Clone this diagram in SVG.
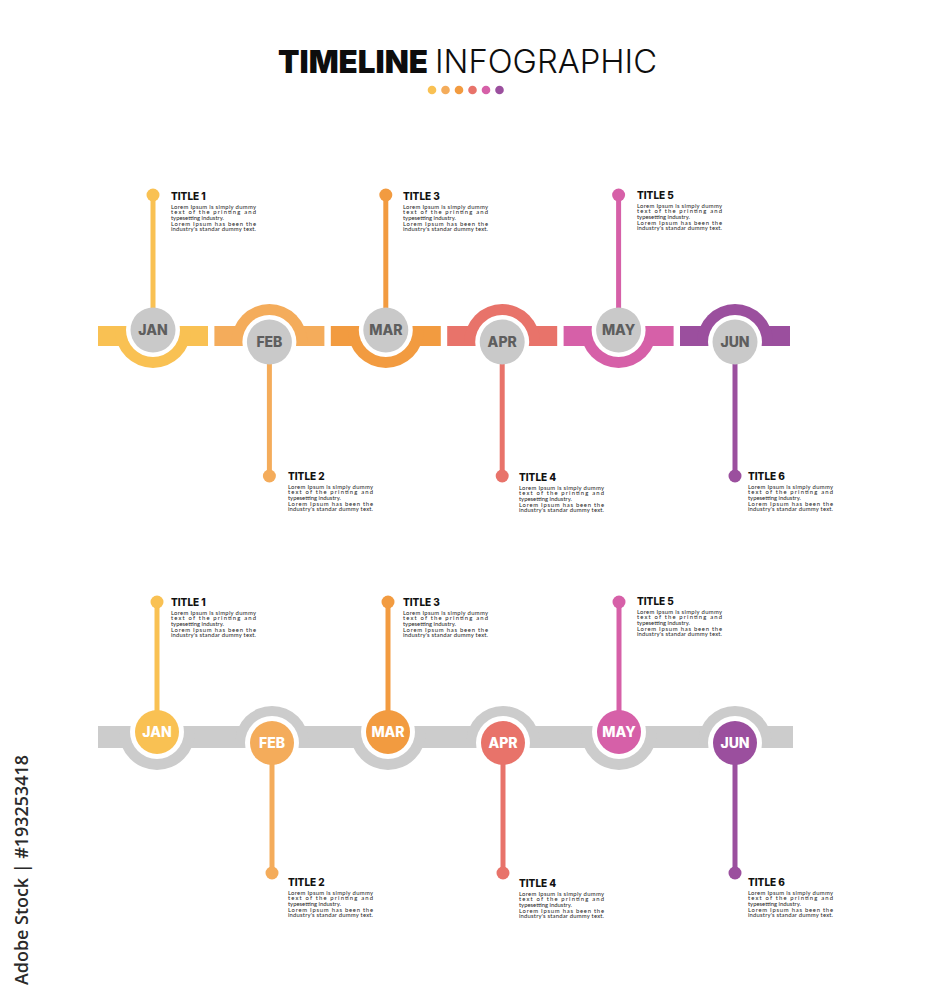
<svg xmlns="http://www.w3.org/2000/svg" width="931" height="1000" viewBox="0 0 931 1000">
<style>
.t{font-family:Inter,"Liberation Sans",sans-serif;font-weight:800;font-size:10px;fill:#111}
.b{font-family:Lato,"Liberation Sans",sans-serif;font-size:5.9px;fill:#222}
.m{font-family:Inter,"Liberation Sans",sans-serif;font-weight:800;font-size:14px;text-anchor:middle}
.mg{fill:#5e5e5e}
.mw{fill:#fff}
.gc{fill:#c9c9c9}
.wh{fill:#fff}
.ln{stroke-width:5;fill:none}
</style>
<rect width="931" height="1000" fill="#fff"/>
<g id="title">
<text x="278" y="73" font-family="Inter,'Liberation Sans',sans-serif" font-weight="900" font-size="32" fill="#0d0d0d" textLength="150" lengthAdjust="spacingAndGlyphs">TIMELINE</text>
<text x="435" y="73" font-family="Inter,'Liberation Sans',sans-serif" font-weight="300" font-size="32" fill="#0d0d0d" textLength="222" lengthAdjust="spacingAndGlyphs">INFOGRAPHIC</text>
<circle cx="432" cy="90" r="4.3" fill="#F9C153"/>
<circle cx="445.5" cy="90" r="4.3" fill="#F4AC5B"/>
<circle cx="459" cy="90" r="4.3" fill="#F29B40"/>
<circle cx="472.5" cy="90" r="4.3" fill="#E8736A"/>
<circle cx="486" cy="90" r="4.3" fill="#D660A8"/>
<circle cx="499.5" cy="90" r="4.3" fill="#9B4F9E"/>
</g>
<g id="watermark">
<text transform="translate(28,870) rotate(-90)" text-anchor="middle" font-family="'Open Sans','Liberation Sans',sans-serif" font-weight="600" font-size="17.5" fill="#2a2a2a" textLength="230" lengthAdjust="spacingAndGlyphs">Adobe Stock | #193253418</text>
</g>

<g id="top-jan">
<rect x="98" y="326" width="110" height="20" fill="#F9C153"/>
<path d="M115 330 A38 38 0 0 0 191 330 Z" fill="#F9C153"/>
<circle cx="153" cy="330" r="27" class="wh"/>
</g>
<g id="top-feb">
<rect x="214.4" y="326" width="110" height="20" fill="#F4AC5B"/>
<path d="M231.4 342 A38 38 0 0 1 307.4 342 Z" fill="#F4AC5B"/>
<circle cx="269.4" cy="342" r="27" class="wh"/>
</g>
<g id="top-mar">
<rect x="330.8" y="326" width="110" height="20" fill="#F29B40"/>
<path d="M347.8 330 A38 38 0 0 0 423.8 330 Z" fill="#F29B40"/>
<circle cx="385.8" cy="330" r="27" class="wh"/>
</g>
<g id="top-apr">
<rect x="447.2" y="326" width="110" height="20" fill="#E8736A"/>
<path d="M464.2 342 A38 38 0 0 1 540.2 342 Z" fill="#E8736A"/>
<circle cx="502.2" cy="342" r="27" class="wh"/>
</g>
<g id="top-may">
<rect x="563.6" y="326" width="110" height="20" fill="#D660A8"/>
<path d="M580.6 330 A38 38 0 0 0 656.6 330 Z" fill="#D660A8"/>
<circle cx="618.6" cy="330" r="27" class="wh"/>
</g>
<g id="top-jun">
<rect x="680" y="326" width="110" height="20" fill="#9B4F9E"/>
<path d="M697 342 A38 38 0 0 1 773 342 Z" fill="#9B4F9E"/>
<circle cx="735" cy="342" r="27" class="wh"/>
</g>

<g id="bottom-track">
<rect x="98" y="726" width="695" height="22" fill="#cccccc"/>
<path d="M119 732 A38 38 0 0 0 195 732 Z" fill="#cccccc"/>
<path d="M235 743 A37 37 0 0 1 309 743 Z" fill="#cccccc"/>
<path d="M350 732 A38 38 0 0 0 426 732 Z" fill="#cccccc"/>
<path d="M466 743 A37 37 0 0 1 540 743 Z" fill="#cccccc"/>
<path d="M581 732 A38 38 0 0 0 657 732 Z" fill="#cccccc"/>
<path d="M698 743 A37 37 0 0 1 772 743 Z" fill="#cccccc"/>
<circle cx="157" cy="732" r="27" class="wh"/>
<circle cx="272" cy="743" r="27" class="wh"/>
<circle cx="388" cy="732" r="27" class="wh"/>
<circle cx="503" cy="743" r="27" class="wh"/>
<circle cx="619" cy="732" r="27" class="wh"/>
<circle cx="735" cy="743" r="27" class="wh"/>
</g>

<g id="connectors">
<line x1="153" y1="195" x2="153" y2="315" class="ln" stroke="#F9C153"/>
<circle cx="153" cy="195" r="6.5" fill="#F9C153"/>
<line x1="269.4" y1="476" x2="269.4" y2="355" class="ln" stroke="#F4AC5B"/>
<circle cx="269.4" cy="476" r="6.5" fill="#F4AC5B"/>
<line x1="385.8" y1="195" x2="385.8" y2="315" class="ln" stroke="#F29B40"/>
<circle cx="385.8" cy="195" r="6.5" fill="#F29B40"/>
<line x1="502.2" y1="476" x2="502.2" y2="355" class="ln" stroke="#E8736A"/>
<circle cx="502.2" cy="476" r="6.5" fill="#E8736A"/>
<line x1="618.6" y1="195" x2="618.6" y2="315" class="ln" stroke="#D660A8"/>
<circle cx="618.6" cy="195" r="6.5" fill="#D660A8"/>
<line x1="735" y1="476" x2="735" y2="355" class="ln" stroke="#9B4F9E"/>
<circle cx="735" cy="476" r="6.5" fill="#9B4F9E"/>

<line x1="157" y1="602" x2="157" y2="720" class="ln" stroke="#F9C153"/>
<circle cx="157" cy="602" r="6.5" fill="#F9C153"/>
<line x1="272" y1="873" x2="272" y2="755" class="ln" stroke="#F4AC5B"/>
<circle cx="272" cy="873" r="6.5" fill="#F4AC5B"/>
<line x1="388" y1="602" x2="388" y2="720" class="ln" stroke="#F29B40"/>
<circle cx="388" cy="602" r="6.5" fill="#F29B40"/>
<line x1="503" y1="873" x2="503" y2="755" class="ln" stroke="#E8736A"/>
<circle cx="503" cy="873" r="6.5" fill="#E8736A"/>
<line x1="619" y1="602" x2="619" y2="720" class="ln" stroke="#D660A8"/>
<circle cx="619" cy="602" r="6.5" fill="#D660A8"/>
<line x1="735" y1="873" x2="735" y2="755" class="ln" stroke="#9B4F9E"/>
<circle cx="735" cy="873" r="6.5" fill="#9B4F9E"/>
</g>

<g id="top-month-circles">
<g id="c-top-jan"><circle cx="153" cy="330" r="22.5" class="gc"/><text x="153" y="335" class="m mg">JAN</text></g>
<g id="c-top-feb"><circle cx="269.4" cy="342" r="22.5" class="gc"/><text x="269.4" y="347" class="m mg">FEB</text></g>
<g id="c-top-mar"><circle cx="385.8" cy="330" r="22.5" class="gc"/><text x="385.8" y="335" class="m mg">MAR</text></g>
<g id="c-top-apr"><circle cx="502.2" cy="342" r="22.5" class="gc"/><text x="502.2" y="347" class="m mg">APR</text></g>
<g id="c-top-may"><circle cx="618.6" cy="330" r="22.5" class="gc"/><text x="618.6" y="335" class="m mg">MAY</text></g>
<g id="c-top-jun"><circle cx="735" cy="342" r="22.5" class="gc"/><text x="735" y="347" class="m mg">JUN</text></g>
</g>
<g id="bottom-month-circles">
<g id="c-bot-jan"><circle cx="157" cy="732" r="22" fill="#F9C153"/><text x="157" y="737" class="m mw">JAN</text></g>
<g id="c-bot-feb"><circle cx="272" cy="743" r="22" fill="#F4AC5B"/><text x="272" y="748" class="m mw">FEB</text></g>
<g id="c-bot-mar"><circle cx="388" cy="732" r="22" fill="#F29B40"/><text x="388" y="737" class="m mw">MAR</text></g>
<g id="c-bot-apr"><circle cx="503" cy="743" r="22" fill="#E8736A"/><text x="503" y="748" class="m mw">APR</text></g>
<g id="c-bot-may"><circle cx="619" cy="732" r="22" fill="#D660A8"/><text x="619" y="737" class="m mw">MAY</text></g>
<g id="c-bot-jun"><circle cx="735" cy="743" r="22" fill="#9B4F9E"/><text x="735" y="748" class="m mw">JUN</text></g>
</g>

<g id="text-top-1">
<text x="171" y="200" class="t">TITLE 1</text>
<text x="171" y="208.8" class="b" textLength="85" lengthAdjust="spacing">Lorem Ipsum is simply dummy</text>
<text x="171" y="214.4" class="b" textLength="85" lengthAdjust="spacing">text of the printing and</text>
<text x="171" y="220" class="b">typesetting industry.</text>
<text x="171" y="225.6" class="b" textLength="85" lengthAdjust="spacing">Lorem Ipsum has been the</text>
<text x="171" y="231.2" class="b" textLength="85" lengthAdjust="spacing">industry's standar dummy text.</text>
</g>
<g id="text-top-2">
<text x="288" y="480" class="t">TITLE 2</text>
<text x="288" y="488.8" class="b" textLength="85" lengthAdjust="spacing">Lorem Ipsum is simply dummy</text>
<text x="288" y="494.4" class="b" textLength="85" lengthAdjust="spacing">text of the printing and</text>
<text x="288" y="500" class="b">typesetting industry.</text>
<text x="288" y="505.6" class="b" textLength="85" lengthAdjust="spacing">Lorem Ipsum has been the</text>
<text x="288" y="511.2" class="b" textLength="85" lengthAdjust="spacing">industry's standar dummy text.</text>
</g>
<g id="text-top-3">
<text x="403" y="200" class="t">TITLE 3</text>
<text x="403" y="208.8" class="b" textLength="85" lengthAdjust="spacing">Lorem Ipsum is simply dummy</text>
<text x="403" y="214.4" class="b" textLength="85" lengthAdjust="spacing">text of the printing and</text>
<text x="403" y="220" class="b">typesetting industry.</text>
<text x="403" y="225.6" class="b" textLength="85" lengthAdjust="spacing">Lorem Ipsum has been the</text>
<text x="403" y="231.2" class="b" textLength="85" lengthAdjust="spacing">industry's standar dummy text.</text>
</g>
<g id="text-top-4">
<text x="519" y="481" class="t">TITLE 4</text>
<text x="519" y="489.8" class="b" textLength="85" lengthAdjust="spacing">Lorem Ipsum is simply dummy</text>
<text x="519" y="495.4" class="b" textLength="85" lengthAdjust="spacing">text of the printing and</text>
<text x="519" y="501" class="b">typesetting industry.</text>
<text x="519" y="506.6" class="b" textLength="85" lengthAdjust="spacing">Lorem Ipsum has been the</text>
<text x="519" y="512.2" class="b" textLength="85" lengthAdjust="spacing">industry's standar dummy text.</text>
</g>
<g id="text-top-5">
<text x="637" y="199" class="t">TITLE 5</text>
<text x="637" y="207.8" class="b" textLength="85" lengthAdjust="spacing">Lorem Ipsum is simply dummy</text>
<text x="637" y="213.4" class="b" textLength="85" lengthAdjust="spacing">text of the printing and</text>
<text x="637" y="219" class="b">typesetting industry.</text>
<text x="637" y="224.6" class="b" textLength="85" lengthAdjust="spacing">Lorem Ipsum has been the</text>
<text x="637" y="230.2" class="b" textLength="85" lengthAdjust="spacing">industry's standar dummy text.</text>
</g>
<g id="text-top-6">
<text x="748" y="480" class="t">TITLE 6</text>
<text x="748" y="488.8" class="b" textLength="85" lengthAdjust="spacing">Lorem Ipsum is simply dummy</text>
<text x="748" y="494.4" class="b" textLength="85" lengthAdjust="spacing">text of the printing and</text>
<text x="748" y="500" class="b">typesetting industry.</text>
<text x="748" y="505.6" class="b" textLength="85" lengthAdjust="spacing">Lorem Ipsum has been the</text>
<text x="748" y="511.2" class="b" textLength="85" lengthAdjust="spacing">industry's standar dummy text.</text>
</g>

<g id="text-bot-1">
<text x="171" y="606" class="t">TITLE 1</text>
<text x="171" y="614.8" class="b" textLength="85" lengthAdjust="spacing">Lorem Ipsum is simply dummy</text>
<text x="171" y="620.4" class="b" textLength="85" lengthAdjust="spacing">text of the printing and</text>
<text x="171" y="626" class="b">typesetting industry.</text>
<text x="171" y="631.6" class="b" textLength="85" lengthAdjust="spacing">Lorem Ipsum has been the</text>
<text x="171" y="637.2" class="b" textLength="85" lengthAdjust="spacing">industry's standar dummy text.</text>
</g>
<g id="text-bot-2">
<text x="288" y="886" class="t">TITLE 2</text>
<text x="288" y="894.8" class="b" textLength="85" lengthAdjust="spacing">Lorem Ipsum is simply dummy</text>
<text x="288" y="900.4" class="b" textLength="85" lengthAdjust="spacing">text of the printing and</text>
<text x="288" y="906" class="b">typesetting industry.</text>
<text x="288" y="911.6" class="b" textLength="85" lengthAdjust="spacing">Lorem Ipsum has been the</text>
<text x="288" y="917.2" class="b" textLength="85" lengthAdjust="spacing">industry's standar dummy text.</text>
</g>
<g id="text-bot-3">
<text x="403" y="606" class="t">TITLE 3</text>
<text x="403" y="614.8" class="b" textLength="85" lengthAdjust="spacing">Lorem Ipsum is simply dummy</text>
<text x="403" y="620.4" class="b" textLength="85" lengthAdjust="spacing">text of the printing and</text>
<text x="403" y="626" class="b">typesetting industry.</text>
<text x="403" y="631.6" class="b" textLength="85" lengthAdjust="spacing">Lorem Ipsum has been the</text>
<text x="403" y="637.2" class="b" textLength="85" lengthAdjust="spacing">industry's standar dummy text.</text>
</g>
<g id="text-bot-4">
<text x="519" y="887" class="t">TITLE 4</text>
<text x="519" y="895.8" class="b" textLength="85" lengthAdjust="spacing">Lorem Ipsum is simply dummy</text>
<text x="519" y="901.4" class="b" textLength="85" lengthAdjust="spacing">text of the printing and</text>
<text x="519" y="907" class="b">typesetting industry.</text>
<text x="519" y="912.6" class="b" textLength="85" lengthAdjust="spacing">Lorem Ipsum has been the</text>
<text x="519" y="918.2" class="b" textLength="85" lengthAdjust="spacing">industry's standar dummy text.</text>
</g>
<g id="text-bot-5">
<text x="637" y="605" class="t">TITLE 5</text>
<text x="637" y="613.8" class="b" textLength="85" lengthAdjust="spacing">Lorem Ipsum is simply dummy</text>
<text x="637" y="619.4" class="b" textLength="85" lengthAdjust="spacing">text of the printing and</text>
<text x="637" y="625" class="b">typesetting industry.</text>
<text x="637" y="630.6" class="b" textLength="85" lengthAdjust="spacing">Lorem Ipsum has been the</text>
<text x="637" y="636.2" class="b" textLength="85" lengthAdjust="spacing">industry's standar dummy text.</text>
</g>
<g id="text-bot-6">
<text x="748" y="886" class="t">TITLE 6</text>
<text x="748" y="894.8" class="b" textLength="85" lengthAdjust="spacing">Lorem Ipsum is simply dummy</text>
<text x="748" y="900.4" class="b" textLength="85" lengthAdjust="spacing">text of the printing and</text>
<text x="748" y="906" class="b">typesetting industry.</text>
<text x="748" y="911.6" class="b" textLength="85" lengthAdjust="spacing">Lorem Ipsum has been the</text>
<text x="748" y="917.2" class="b" textLength="85" lengthAdjust="spacing">industry's standar dummy text.</text>
</g>
</svg>
